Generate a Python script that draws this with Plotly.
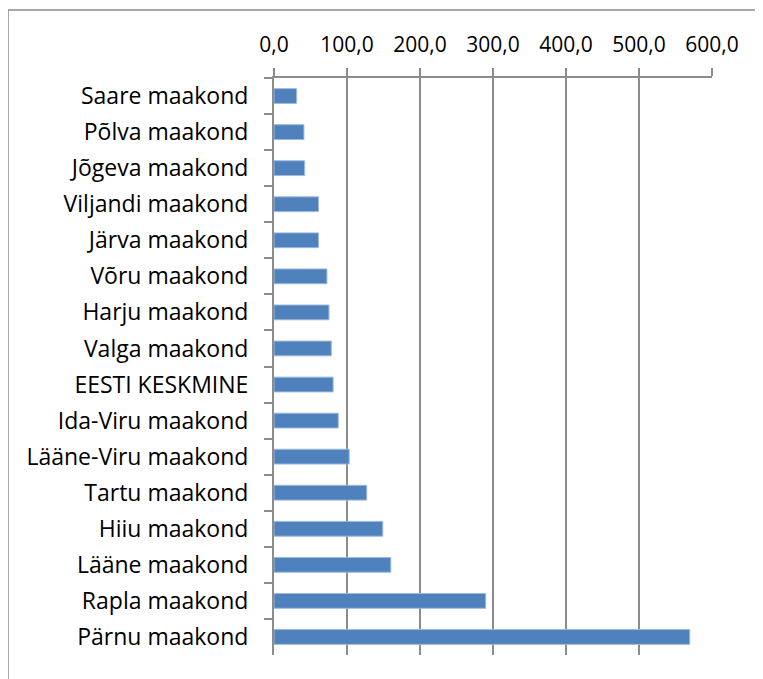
import plotly.graph_objects as go

categories = ["Saare maakond", "Põlva maakond", "Jõgeva maakond", "Viljandi maakond",
              "Järva maakond", "Võru maakond", "Harju maakond", "Valga maakond",
              "EESTI KESKMINE", "Ida-Viru maakond", "Lääne-Viru maakond", "Tartu maakond",
              "Hiiu maakond", "Lääne maakond", "Rapla maakond", "Pärnu maakond"]
values = [31, 41, 42, 61, 61, 72.5, 75.3, 78.5, 81, 88, 103, 127, 149, 160, 290, 569.5]
x_ticks = [0, 100, 200, 300, 400, 500, 600]

FONT = "Open Sans"
GRAY = "#8c8c8c"

fig = go.Figure(go.Bar(
    x=values, y=categories, orientation="h",
    marker=dict(color="#4F81BD", line=dict(color="#9DB9DE", width=1)),
    hoverinfo="x+y",
))

fig.update_layout(
    width=755, height=671,
    margin=dict(l=266, r=51, t=70, b=24),
    plot_bgcolor="white", paper_bgcolor="white",
    separators=", ",
    bargap=0.59,
    showlegend=False,
    font=dict(family=FONT, size=21, color="black"),
    xaxis=dict(
        side="top", range=[0, 600], tickvals=x_ticks, tickformat=".1f",
        showgrid=True, gridcolor=GRAY, gridwidth=1.5,
        showline=True, linecolor=GRAY, linewidth=1.5,
        ticks="outside", ticklen=8, tickcolor=GRAY, tickwidth=1.5,
        zeroline=False, ticklabelstandoff=8, fixedrange=True,
    ),
    yaxis=dict(
        autorange="reversed", showgrid=False,
        showline=True, linecolor=GRAY, linewidth=2,
        ticks="outside", ticklen=8, tickcolor=GRAY, tickwidth=1.5,
        tickson="boundaries", ticklabelstandoff=19, fixedrange=True,
        tickfont=dict(size=23),
    ),
    shapes=[dict(type="rect", xref="paper", yref="paper",
                 x0=(8 - 274) / 438, x1=1.2, y0=-0.1, y1=(655 - 10) / 577,
                 line=dict(color=GRAY, width=1.5), layer="below")],
)

fig.write_html("out.html")
